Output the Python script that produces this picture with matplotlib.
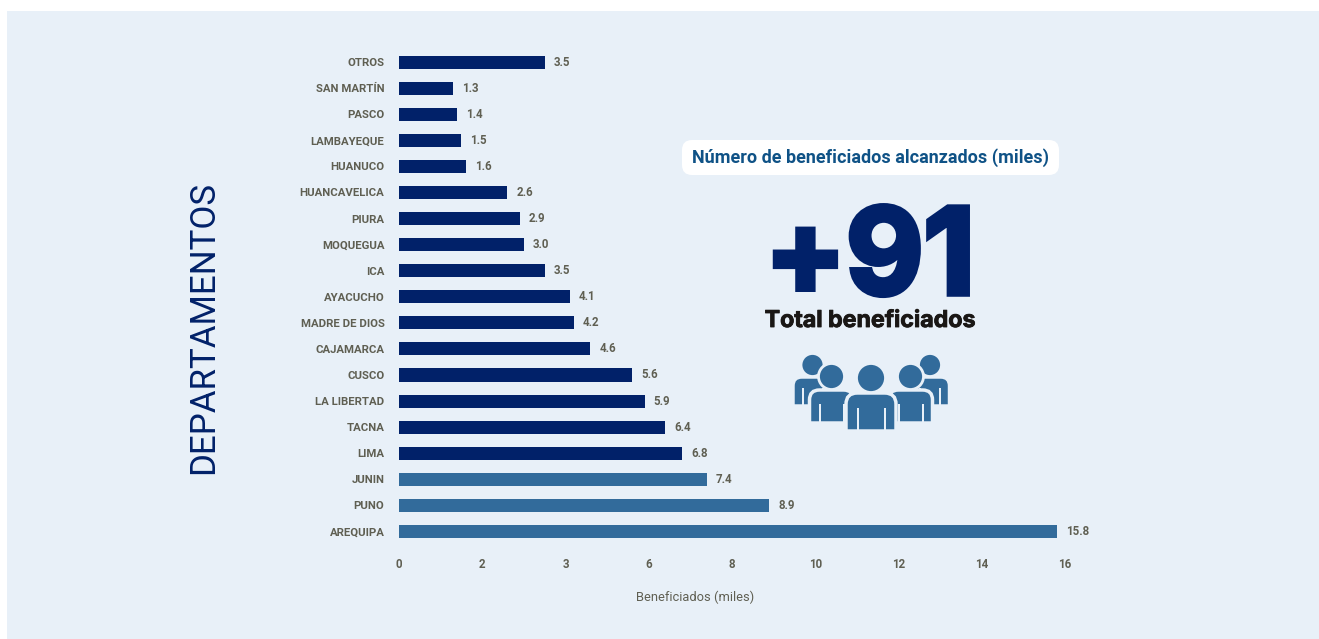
#!/usr/bin/env python3
"""Beneficiados por departamento - horizontal bars + total callout."""

import matplotlib
matplotlib.use("Agg")
import matplotlib.pyplot as plt
import matplotlib.patheffects as pe
from matplotlib.patches import Circle, FancyBboxPatch, PathPatch, Rectangle
from matplotlib.path import Path

# ============== DATA ==============
departamentos = ["OTROS", "SAN MARTÍN", "PASCO", "LAMBAYEQUE", "HUANUCO", "HUANCAVELICA",
                 "PIURA", "MOQUEGUA", "ICA", "AYACUCHO", "MADRE DE DIOS", "CAJAMARCA",
                 "CUSCO", "LA LIBERTAD", "TACNA", "LIMA", "JUNIN", "PUNO", "AREQUIPA"]
beneficiados = [3.5, 1.3, 1.4, 1.5, 1.6, 2.6, 2.9, 3.0, 3.5, 4.1, 4.2, 4.6,
                5.6, 5.9, 6.4, 6.8, 7.4, 8.9, 15.8]
x_ticks = [0, 2, 4, 6, 8, 10, 12, 14, 16]
x_tick_labels = ["0", "2", "3", "6", "8", "10", "12", "14", "16"]  # the "3" is in the original

# ============== STYLE ==============
W, H = 1319, 639
BG = "#e8f0f8"
NAVY = "#012169"
BLUE = "#326b9b"
GRAY = "#5f5f52"
TOP3 = 3  # last bars drawn in the lighter blue

plt.rcParams['font.family'] = ['Roboto', 'DejaVu Sans']

fig = plt.figure(figsize=(W / 100, H / 100), dpi=100, facecolor="white")

# overlay in pixel coords for panel, callout and icon
bg = fig.add_axes([0, 0, 1, 1], zorder=0)
bg.set_xlim(0, W)
bg.set_ylim(H, 0)
bg.axis("off")
bg.add_patch(Rectangle((7, 11), W - 7, H - 11, facecolor=BG, edgecolor="none"))

# main chart
ax = fig.add_axes([399 / W, (H - 544.5) / H, (1065 - 399) / W, 495.5 / H], zorder=1)
ax.patch.set_alpha(0)
colors = [NAVY] * (len(beneficiados) - TOP3) + [BLUE] * TOP3
bars = ax.barh(range(len(departamentos)), beneficiados, height=0.5, color=colors)
ax.bar_label(bars, labels=[f"{v:.1f}" for v in beneficiados], padding=6.5,
             fontsize=8.3, fontweight="bold", color=GRAY)
ax.set_xlim(0, 16)
ax.set_ylim(len(departamentos) - 0.5, -0.5)
ax.set_yticks(range(len(departamentos)))
ax.set_yticklabels(departamentos, fontsize=8.2, fontweight="bold", color=GRAY)
ax.set_xticks(x_ticks)
ax.set_xticklabels(x_tick_labels, fontsize=8.3, fontweight="bold", color=GRAY)
ax.tick_params(axis="y", length=0, pad=10.5)
ax.tick_params(axis="x", length=0, pad=10)
for s in ax.spines.values():
    s.set_visible(False)

bg.text(695, 597, "Beneficiados (miles)", fontsize=9.3, color=GRAY, ha="center", va="center")
bg.text(204, 328, "DEPARTAMENTOS", fontsize=25.1, fontweight="normal", color=NAVY,
        rotation=90, ha="center", va="center")

# callout
bg.add_patch(FancyBboxPatch((682, 140), 377, 35, boxstyle="round,pad=0,rounding_size=10",
                            facecolor="white", edgecolor="none"))
bg.text(870.5, 158, "Número de beneficiados alcanzados (miles)", fontsize=13, fontweight="bold",
        color="#0f5286", ha="center", va="center")
bg.text(870, 294, "+91", fontsize=86, fontweight="bold", family=["Inter", "DejaVu Sans"], color=NAVY,
        ha="center", va="baseline",
        path_effects=[pe.withStroke(linewidth=4, foreground=NAVY, joinstyle="miter")])
bg.text(870, 321, "Total beneficiados", fontsize=16.7, fontweight="bold", family=["Inter", "DejaVu Sans"],
        color="#1a1715", ha="center", va="center",
        path_effects=[pe.withStroke(linewidth=0.6, foreground="#1a1715")])


def person(cx, head_y, r, half_w, top, bottom, slit=0, slit_top=0):
    """One icon figure: round head, rounded shoulders, optional arm slits."""
    c = half_w * 0.45
    verts = [(cx - half_w, bottom), (cx - half_w, top + c), (cx - half_w, top), (cx - half_w + c, top),
             (cx + half_w - c, top), (cx + half_w, top), (cx + half_w, top + c), (cx + half_w, bottom),
             (cx - half_w, bottom)]
    codes = [Path.MOVETO, Path.LINETO, Path.CURVE3, Path.CURVE3, Path.LINETO,
             Path.CURVE3, Path.CURVE3, Path.LINETO, Path.CLOSEPOLY]
    bg.add_patch(PathPatch(Path(verts, codes), facecolor=BLUE, edgecolor=BG, linewidth=2.5))
    bg.add_patch(Circle((cx, head_y), r, facecolor=BLUE, edgecolor=BG, linewidth=2))
    if slit:
        for sx in (cx - slit, cx + slit):
            bg.add_patch(Rectangle((sx - 1, slit_top), 2, bottom - slit_top + 1, facecolor=BG, edgecolor="none"))


# back row, middle row, centre
person(812.5, 365, 11.5, 19.5, 377, 406, slit=10, slit_top=388)
person(930, 365, 11.5, 19.5, 377, 406, slit=10, slit_top=388)
person(831.5, 376.5, 13, 22, 390, 423, slit=12, slit_top=404)
person(910.5, 376.5, 13, 22, 390, 423, slit=12, slit_top=404)
person(871, 378, 14.5, 25, 393, 431, slit=13.5, slit_top=408)

fig.savefig("out.png", dpi=100, facecolor=fig.get_facecolor())
